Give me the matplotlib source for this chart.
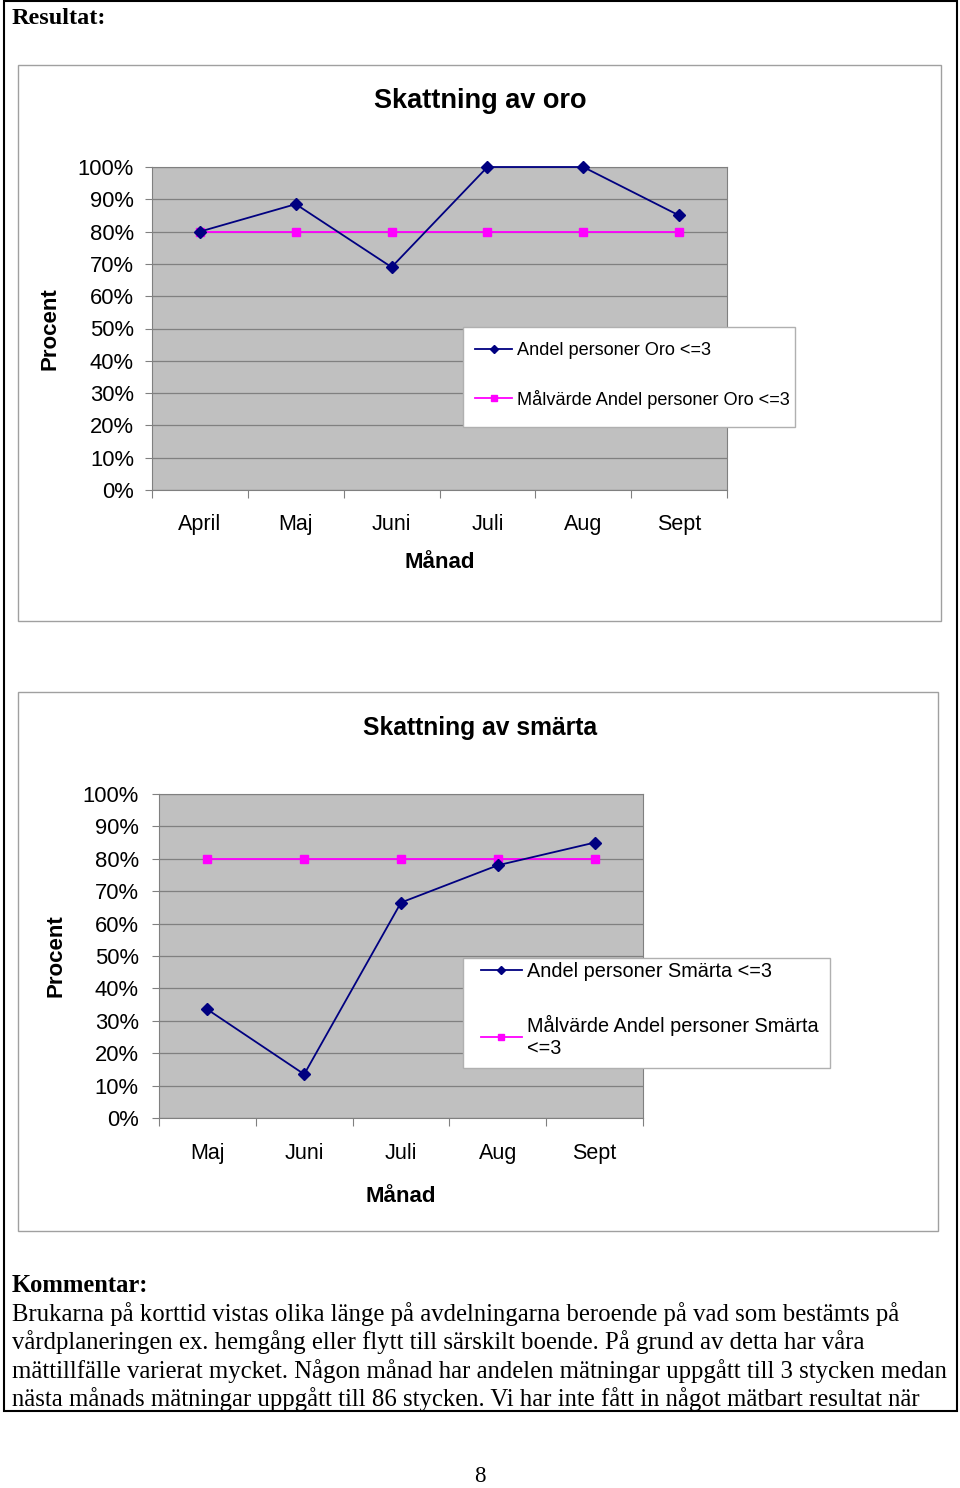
import matplotlib
matplotlib.use("Agg")
import matplotlib.pyplot as plt
from matplotlib.patches import Rectangle
from matplotlib.ticker import FixedLocator, PercentFormatter

# Data
oro_months = ["April", "Maj", "Juni", "Juli", "Aug", "Sept"]
oro_values = [80, 88.5, 69, 100, 100, 85]
oro_target = [80, 80, 80, 80, 80, 80]

smarta_months = ["Maj", "Juni", "Juli", "Aug", "Sept"]
smarta_values = [33.5, 13.5, 66.5, 78, 85]
smarta_target = [80, 80, 80, 80, 80]

comment_lines = [
    "Brukarna på korttid vistas olika länge på avdelningarna beroende på vad som bestämts på",
    "vårdplaneringen ex. hemgång eller flytt till särskilt boende. På grund av detta har våra",
    "mättillfälle varierat mycket. Någon månad har andelen mätningar uppgått till 3 stycken medan",
    "nästa månads mätningar uppgått till 86 stycken. Vi har inte fått in något mätbart resultat när",
]

W, H = 960, 1488
SANS = "Liberation Sans"
SERIF = "Liberation Serif"

fig = plt.figure(figsize=(W / 100, H / 100), dpi=100)


def box(x0, y0, x1, y1):
    return [x0 / W, 1 - y1 / H, (x1 - x0) / W, (y1 - y0) / H]


def ftext(x, y, s, **kw):
    fig.text(x / W, 1 - y / H, s, **kw)


def frame(x0, y0, x1, y1, edge, lw, face=None, z=1):
    fig.patches.append(Rectangle((x0 / W, 1 - y1 / H), (x1 - x0) / W, (y1 - y0) / H,
                                 transform=fig.transFigure, fill=face is not None,
                                 facecolor=face, edgecolor=edge, linewidth=lw, zorder=z))


def line_chart(area, months, values, target, labels, leg_frame, leg_anchor, leg_size,
               leg_spacing, title, title_y, title_size, ylab_x, xpad, ypad, mlab_off):
    x0, y0, x1, y1 = area
    ax = fig.add_axes(box(x0, y0, x1, y1))
    ax.set_facecolor("#c0c0c0")
    n = len(months)
    xs = [i + 0.5 for i in range(n)]
    l1, = ax.plot(xs, values, color="#000080", marker="D", markersize=6, lw=1.3,
                  clip_on=False, zorder=4)
    l2, = ax.plot(xs, target, color="#ff00ff", marker="s", markersize=6, lw=1.3,
                  clip_on=False, zorder=3)
    ax.set_xlim(0, n)
    ax.set_ylim(0, 100)
    ax.yaxis.set_major_locator(FixedLocator(range(0, 101, 10)))
    ax.yaxis.set_major_formatter(PercentFormatter(decimals=0))
    ax.grid(axis="y", color="#808080", lw=0.9)
    ax.set_axisbelow(True)
    ax.set_xticks(range(n + 1))
    ax.set_xticklabels([])
    ax.set_xticks(xs, minor=True)
    ax.set_xticklabels(months, minor=True, fontfamily=SANS, fontsize=15.5)
    ax.tick_params(axis="x", which="major", length=6, color="#808080")
    ax.tick_params(axis="x", which="minor", length=0, pad=xpad)
    ax.tick_params(axis="y", length=5, color="#808080", pad=ypad, labelsize=15.8)
    for lab in ax.get_yticklabels():
        lab.set_fontfamily(SANS)
    for sp in ax.spines.values():
        sp.set_color("#808080")

    # legend: white box with a frameless legend on top
    frame(*leg_frame, edge="#b0b0b0", lw=1, face="white", z=2)
    lx, ly = leg_anchor
    leg = fig.legend([l1, l2], labels, loc="upper left",
                     bbox_to_anchor=(lx / W, 1 - ly / H), frameon=False,
                     prop={"family": SANS, "size": leg_size}, borderpad=0,
                     borderaxespad=0, handlelength=2.05, handletextpad=0.27,
                     labelspacing=leg_spacing, markerscale=0.75)
    leg.set_zorder(3)

    cx = (x0 + x1) / 2
    ftext(480, title_y, title, fontfamily=SANS, fontsize=title_size, fontweight="bold",
          ha="center", va="center")
    ftext(cx, y1 + mlab_off, "Månad", fontfamily=SANS, fontsize=16, fontweight="bold",
          ha="center", va="center")
    ftext(ylab_x, (y0 + y1) / 2, "Procent", fontfamily=SANS, fontsize=16, fontweight="bold",
          ha="center", va="center", rotation=90)
    return ax


# Page border and chart frames
frame(4, 1, 957, 1411, "black", 1.5)
frame(18, 65, 941, 621, "#a0a0a0", 1)
frame(18, 692, 938, 1231, "#a0a0a0", 1)

ftext(12, 19, "Resultat:", fontfamily=SERIF, fontsize=17.5, fontweight="bold", va="center")

line_chart((152, 167, 727, 490), oro_months, oro_values, oro_target,
           ["Andel personer Oro <=3", "Målvärde Andel personer Oro <=3"],
           (463, 327, 795, 427), (475, 342), 13.1, 1.68,
           "Skattning av oro", 101, 19.5, 50, 17, 8, 72)

line_chart((159, 794, 643, 1118), smarta_months, smarta_values, smarta_target,
           ["Andel personer Smärta <=3", "Målvärde Andel personer Smärta\n<=3"],
           (463, 958, 830, 1068), (481, 962), 14.3, 1.7,
           "Skattning av smärta", 728, 17.7, 56, 18, 9.5, 78)

ftext(12, 1286, "Kommentar:", fontfamily=SERIF, fontsize=17.7, fontweight="bold", va="center")
for i, line in enumerate(comment_lines):
    ftext(12, 1314 + i * 28.4, line, fontfamily=SERIF, fontsize=17.85, va="center")

ftext(480, 1476, "8", fontfamily=SERIF, fontsize=16.5, ha="center", va="center")

fig.savefig("out.png", dpi=100)
